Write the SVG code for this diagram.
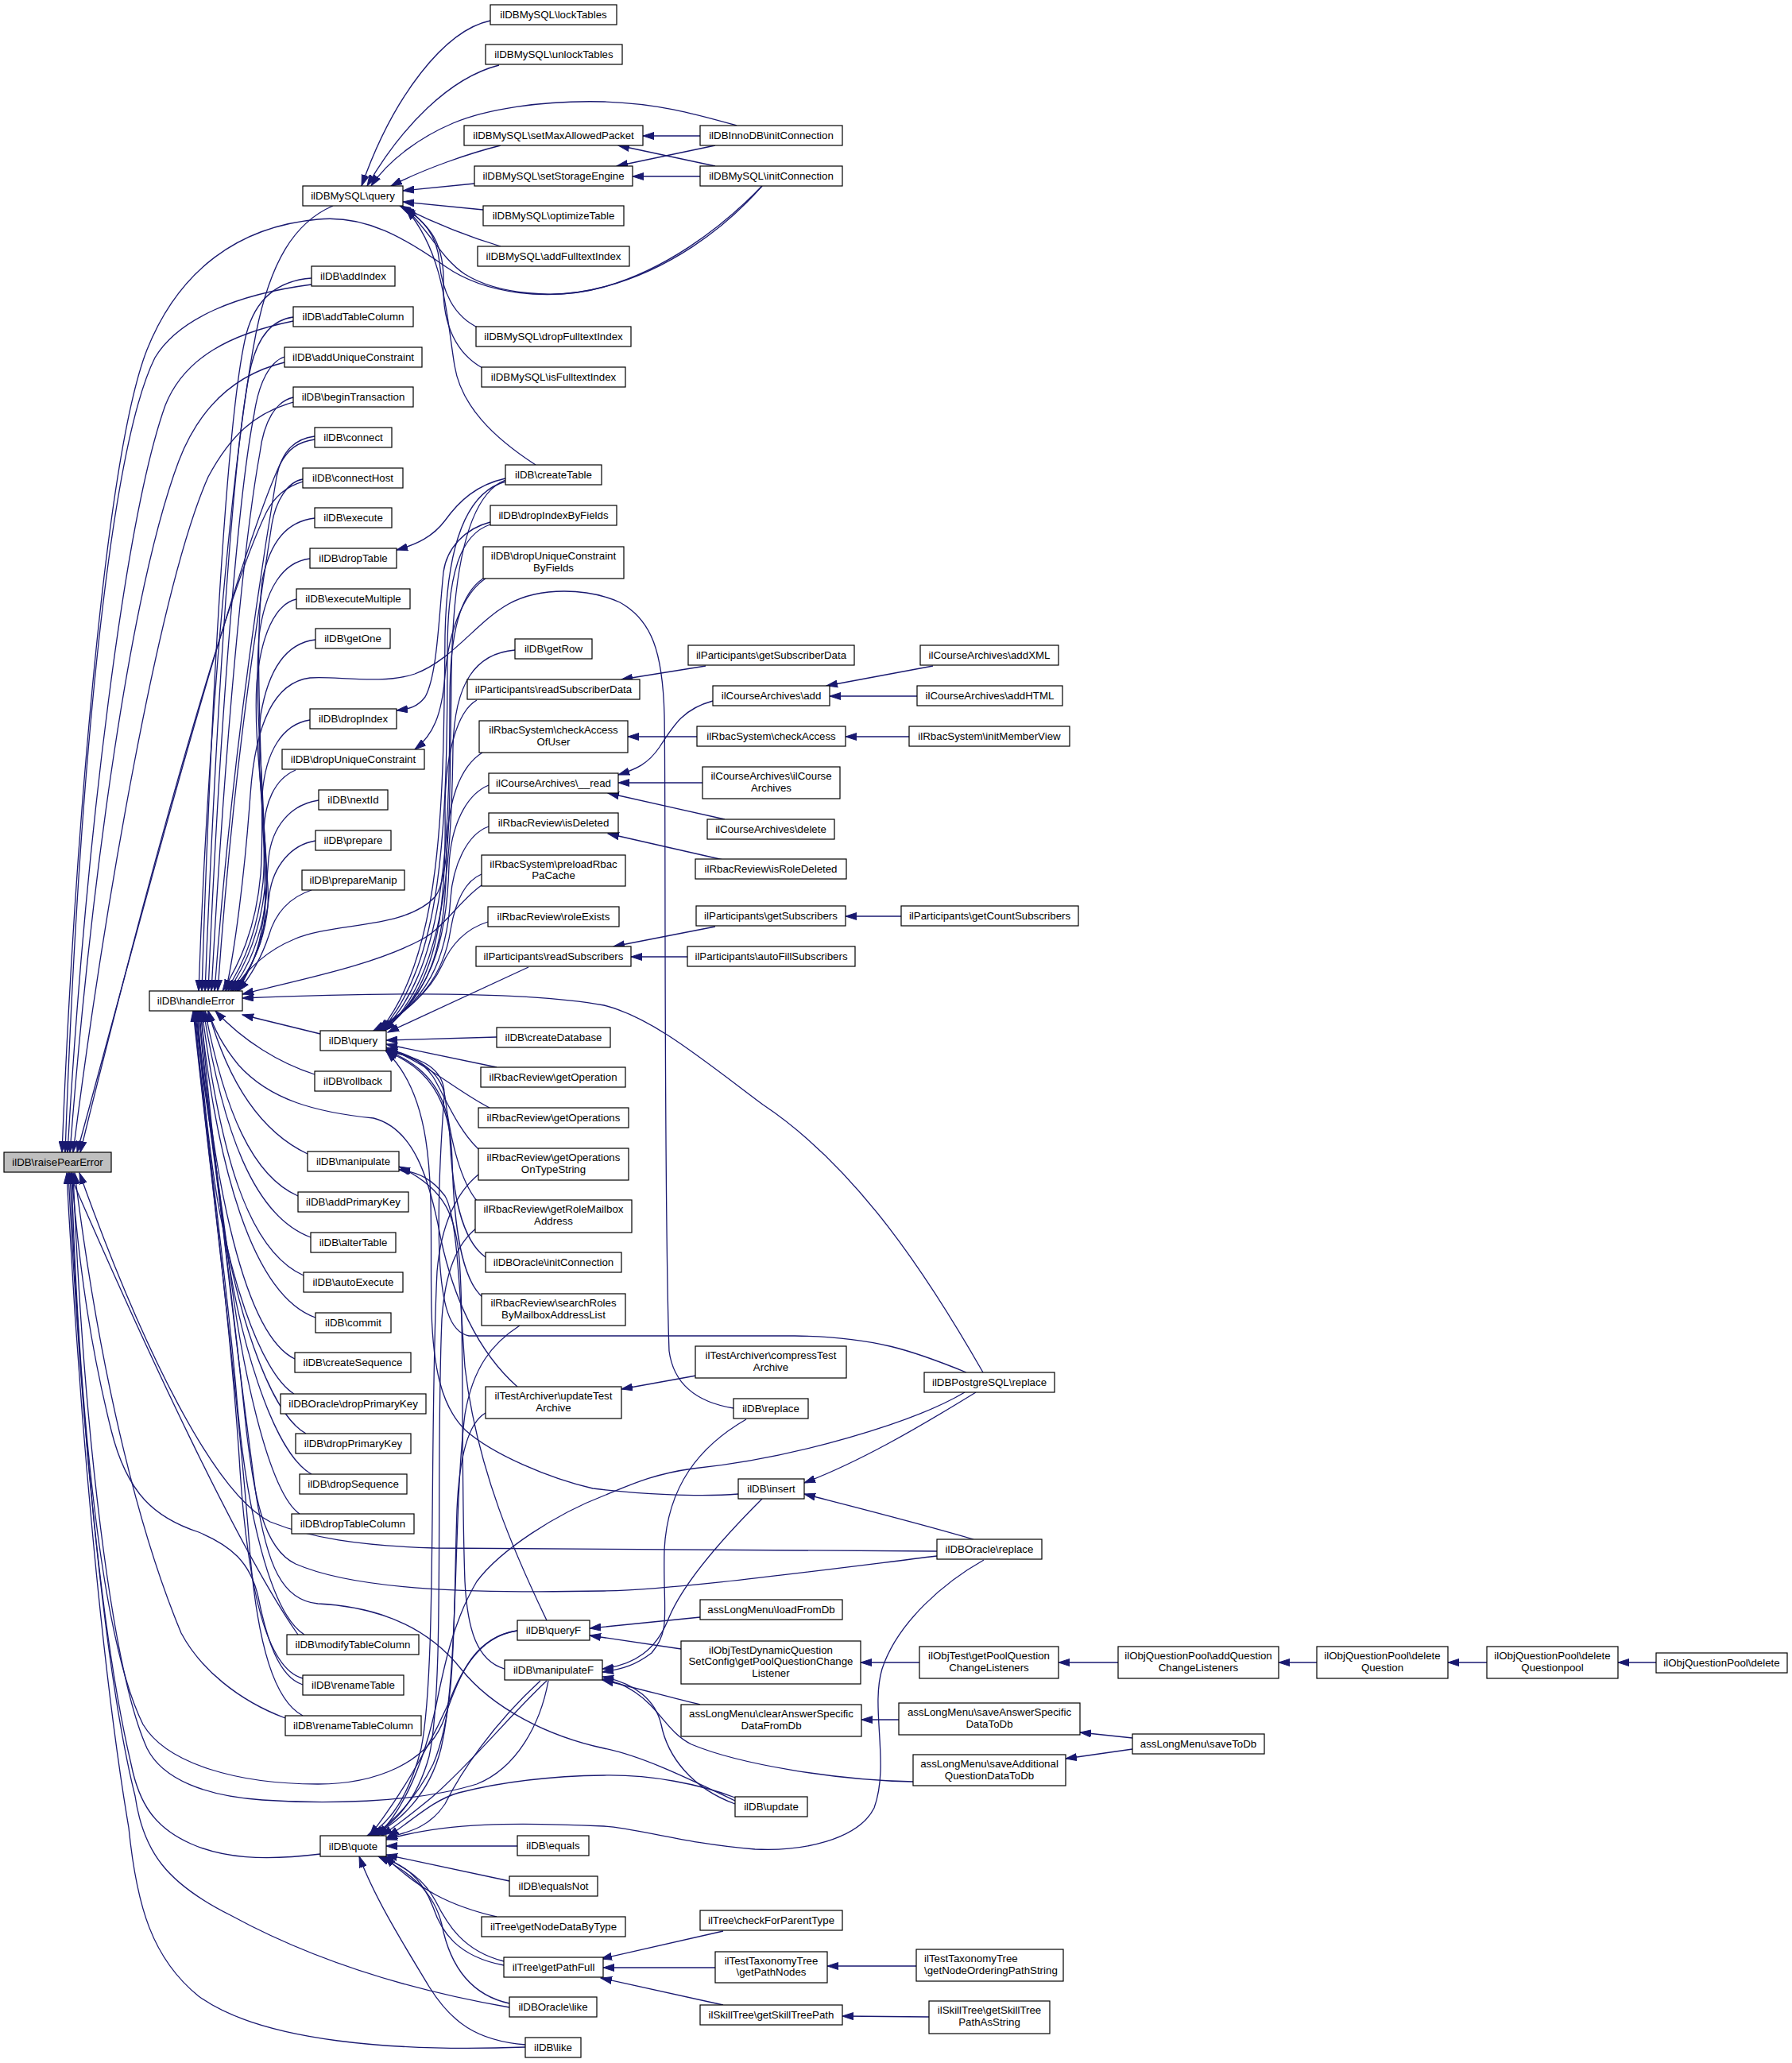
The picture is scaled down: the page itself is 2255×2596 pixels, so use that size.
<svg xmlns="http://www.w3.org/2000/svg" width="2255" height="2596" viewBox="0 0 2255 2596">
<defs>
<style>
.n rect{fill:#fff;stroke:#000;stroke-width:1.2}
.n text{font-family:"Liberation Sans",Arial,Helvetica,sans-serif;font-size:13.3px;fill:#000;text-anchor:middle}
.root rect{fill:#bfbfbf}
.e path{fill:none;stroke:#191970;stroke-width:1.3;marker-end:url(#a)}
</style>
<marker id="a" markerUnits="userSpaceOnUse" markerWidth="15" markerHeight="10" refX="14" refY="5" orient="auto" viewBox="0 0 15 10"><path d="M0,0.5 L14,5 L0,9.5 z" fill="#191970" stroke="#191970" stroke-width="1"/></marker>
</defs>
<rect width="2255" height="2596" fill="#fff"/>
<g id="connectors" class="e">
<path d="M617,26 C560,38 495,120 455,234"/>
<path d="M628,82 C565,98 505,160 462,234"/>
<path d="M927,158 C880,145 830,130 760,128 C680,126 610,138 570,155 C530,172 490,200 467,234"/>
<path d="M630,183 C590,193 535,212 492,234"/>
<path d="M597,231 L507,240"/>
<path d="M608,264 L507,254"/>
<path d="M630,310 C590,298 545,280 503,259"/>
<path d="M603,413 C570,398 556,365 553,330 C550,295 532,276 507,260"/>
<path d="M607,463 C575,445 557,410 558,360 C560,305 540,283 509,261"/>
<path d="M959,234 C910,290 840,340 760,361 C700,378 625,370 585,345 C555,325 540,290 510,262"/>
<path d="M674,585 C620,550 580,510 572,460 C562,400 560,320 511,263"/>
<path d="M419,259 C370,280 340,330 322,420 C295,560 262,900 250,1247"/>
<path d="M959,234 C905,290 835,340 760,361 C690,380 610,370 560,335 C510,300 460,270 400,276 C300,285 225,340 185,440 C130,580 92,1100 78,1450"/>
<path d="M392,358 C300,370 225,400 195,450 C140,560 100,950 82,1450"/>
<path d="M392,350 C350,353 322,375 310,420 C285,520 265,900 254,1247"/>
<path d="M369,404 C290,420 232,450 208,510 C158,650 108,1050 85,1450"/>
<path d="M369,399 C345,402 326,420 316,460 C293,560 272,900 258,1247"/>
<path d="M358,456 C292,472 250,515 225,580 C165,740 115,1100 88,1450"/>
<path d="M358,449 C340,455 326,480 320,520 C300,620 277,900 262,1247"/>
<path d="M369,506 C320,520 290,548 262,600 C200,740 130,1150 92,1450"/>
<path d="M369,500 C347,505 332,530 327,570 C307,680 284,920 266,1247"/>
<path d="M396,553 C375,556 362,565 352,585 C290,720 160,1220 97,1450"/>
<path d="M396,549 C372,552 355,566 348,600 C328,720 292,950 270,1247"/>
<path d="M381,606 C360,612 345,625 335,645 C270,780 150,1250 101,1450"/>
<path d="M381,603 C362,606 347,630 342,660 C324,780 294,960 274,1247"/>
<path d="M396,652 C362,656 340,680 330,730 C318,840 335,1000 328,1100 C322,1170 300,1215 280,1247"/>
<path d="M390,703 C356,707 334,740 326,800 C318,900 338,1020 331,1110 C324,1175 304,1218 284,1247"/>
<path d="M373,754 C346,760 328,800 323,860 C318,950 340,1050 333,1120 C326,1180 306,1220 287,1247"/>
<path d="M397,805 C362,809 338,840 328,900 C320,980 340,1070 335,1130 C328,1185 310,1222 290,1247"/>
<path d="M390,906 C356,911 334,945 330,1000 C327,1060 342,1110 336,1150 C330,1195 312,1225 293,1247"/>
<path d="M372,969 C346,980 332,1010 332,1050 C332,1110 338,1150 328,1185 C318,1215 306,1232 296,1247"/>
<path d="M401,1007 C366,1012 342,1040 338,1080 C334,1130 332,1175 320,1205 C312,1225 304,1237 298,1247"/>
<path d="M397,1058 C366,1063 344,1090 339,1125 C334,1170 322,1210 299,1247"/>
<path d="M392,1120 C362,1130 346,1150 338,1178 C328,1208 314,1230 300,1247"/>
<path d="M636,604 C596,620 570,690 568,850 C566,1000 568,1100 548,1128 C510,1170 420,1160 370,1182 C336,1196 312,1218 292,1247"/>
<path d="M606,1114 C580,1132 560,1165 533,1181 C470,1215 380,1232 305,1251"/>
<path d="M1237,1727 C1170,1610 1080,1470 960,1390 C880,1330 820,1280 760,1265 C650,1245 450,1250 305,1256"/>
<path d="M403,1301 L305,1277"/>
<path d="M396,1352 C352,1338 306,1310 271,1272"/>
<path d="M387,1452 C330,1425 288,1365 262,1272"/>
<path d="M375,1505 C318,1480 283,1400 258,1272"/>
<path d="M391,1557 C318,1530 280,1420 256,1272"/>
<path d="M382,1605 C308,1572 276,1440 254,1272"/>
<path d="M397,1658 C318,1630 273,1470 252,1272"/>
<path d="M371,1710 C308,1680 268,1490 250,1272"/>
<path d="M370,1754 C328,1728 283,1600 265,1450 C256,1380 251,1320 249,1272"/>
<path d="M385,1804 C338,1778 293,1640 275,1500 C262,1400 251,1320 248,1272"/>
<path d="M392,1855 C343,1828 298,1680 281,1540 C267,1420 250,1330 247,1272"/>
<path d="M377,1905 C338,1878 303,1720 287,1580 C271,1450 249,1330 246,1272"/>
<path d="M383,2057 C340,2030 310,1900 298,1760 C285,1600 255,1400 245,1272"/>
<path d="M375,2057 C300,1950 180,1690 87,1476"/>
<path d="M381,2112 C336,2100 312,2000 302,1850 C290,1650 255,1400 244,1272"/>
<path d="M381,2120 C350,2110 335,2060 325,2010 C315,1965 290,1945 250,1928 C195,1910 160,1880 140,1800 C115,1700 100,1600 90,1476"/>
<path d="M381,2159 C345,2140 325,2070 315,1960 C300,1750 258,1420 243,1272"/>
<path d="M359,2162 C300,2140 252,2100 228,2055 C180,1940 128,1750 94,1476"/>
<path d="M651,2052 C600,2060 580,2100 560,2160 C540,2220 470,2245 400,2245 C300,2245 210,2220 180,2170 C130,2070 100,1800 90,1476"/>
<path d="M690,2115 C680,2170 650,2225 600,2245 C520,2270 400,2270 330,2265 C260,2260 205,2240 185,2200 C140,2100 105,1800 92,1476"/>
<path d="M403,2333 C330,2342 280,2338 240,2320 C195,2300 175,2270 165,2220 C125,2050 100,1760 88,1476"/>
<path d="M641,2526 C520,2505 400,2470 290,2410 C210,2370 180,2330 170,2260 C130,2100 100,1760 86,1476"/>
<path d="M661,2576 C500,2582 330,2570 250,2512 C192,2465 172,2400 162,2300 C128,2100 98,1760 84,1476"/>
<path d="M1179,1952 C900,1952 650,1950 547,1948 C450,1945 390,1935 340,1915 C270,1880 180,1700 100,1476"/>
<path d="M1179,1958 C1000,1980 850,2000 760,2002 C600,2005 450,2002 372,1968 C330,1948 320,1880 310,1800 C290,1600 260,1400 251,1272"/>
<path d="M925,2266 C870,2240 810,2210 760,2200 C690,2185 620,2150 580,2100 C540,2050 480,2022 400,2018 C355,2014 336,1970 322,1880 C298,1700 262,1400 253,1272"/>
<path d="M923,1772 C880,1765 848,1745 842,1700 C835,1500 838,1000 836,900 C834,820 820,780 780,758 C740,740 680,738 640,760 C600,782 570,830 522,848 C480,862 420,850 390,853 C350,858 322,900 315,1000 C308,1100 295,1200 284,1247"/>
<path d="M651,1745 C600,1700 570,1630 555,1560 C540,1480 520,1420 470,1407 C400,1400 340,1385 300,1340 C282,1318 270,1298 262,1272"/>
<path d="M636,602 C600,610 578,630 560,655 C545,675 525,685 499,692"/>
<path d="M617,657 C585,665 562,690 558,720 C552,780 550,850 535,877 C525,890 515,892 499,894"/>
<path d="M611,728 C585,745 565,790 560,850 C556,900 545,925 522,943"/>
<path d="M636,606 C585,620 562,690 560,800 C558,1000 558,1200 478,1297"/>
<path d="M617,660 C580,672 563,720 563,820 C563,1050 556,1210 480,1297"/>
<path d="M611,726 C578,745 566,800 566,880 C566,1080 556,1220 482,1297"/>
<path d="M648,818 C598,822 572,860 570,940 C568,1100 556,1230 484,1297"/>
<path d="M600,881 C575,895 560,950 560,1020 C562,1150 550,1245 482,1297"/>
<path d="M607,947 C578,965 563,1010 562,1070 C562,1180 546,1250 480,1297"/>
<path d="M615,988 C586,1000 567,1040 565,1090 C562,1190 540,1255 477,1297"/>
<path d="M615,1040 C587,1050 570,1090 567,1130 C562,1210 536,1260 475,1297"/>
<path d="M606,1100 C582,1110 572,1140 567,1170 C558,1230 526,1265 473,1297"/>
<path d="M614,1160 C582,1170 566,1192 556,1215 C540,1250 508,1275 470,1297"/>
<path d="M665,1217 L488,1299"/>
<path d="M625,1305 L486,1309"/>
<path d="M625,1343 L486,1314"/>
<path d="M616,1394 C575,1373 540,1340 486,1318"/>
<path d="M602,1446 C575,1420 560,1380 545,1355 C530,1333 510,1325 486,1320"/>
<path d="M600,1511 C575,1480 565,1420 560,1380 C554,1345 522,1330 486,1321"/>
<path d="M611,1582 C580,1560 569,1500 566,1430 C563,1370 530,1338 486,1322"/>
<path d="M608,1633 C580,1610 571,1540 569,1460 C567,1380 536,1342 486,1323"/>
<path d="M1216,1727 C1150,1700 1100,1682 1000,1681 L590,1681 C565,1676 556,1640 553,1580 C550,1500 556,1420 559,1380 C561,1345 530,1330 486,1323"/>
<path d="M929,1880 C880,1884 800,1880 746,1873 C690,1860 620,1830 586,1800 C555,1770 545,1720 543,1650 C540,1520 555,1390 486,1323"/>
<path d="M635,2100 C600,2090 588,2050 585,1990 C580,1850 584,1680 579,1600 C576,1530 560,1495 502,1468"/>
<path d="M688,2039 C650,1960 600,1850 585,1720 C578,1620 575,1530 560,1505 C545,1485 528,1475 502,1472"/>
<path d="M651,2052 C618,2056 592,2080 572,2125 C548,2185 505,2260 465,2310"/>
<path d="M688,2115 C640,2160 592,2220 543,2262 C515,2285 495,2300 480,2310"/>
<path d="M680,2115 C620,2170 580,2230 560,2270 C540,2300 515,2305 486,2313"/>
<path d="M1214,1752 C1150,1790 1000,1835 872,1848 C820,1855 790,1870 760,1882 C700,1905 630,1950 600,1990 C570,2040 558,2100 548,2150 C530,2230 505,2280 475,2310"/>
<path d="M1238,1963 C1190,1990 1130,2040 1110,2100 C1095,2150 1120,2220 1100,2275 C1080,2315 1010,2330 950,2327 C860,2320 800,2300 760,2298 C650,2293 560,2293 486,2315"/>
<path d="M925,2262 C880,2245 820,2233 760,2234 C680,2235 620,2245 577,2256 C545,2265 520,2290 488,2311"/>
<path d="M651,2323 L486,2323"/>
<path d="M641,2367 L486,2334"/>
<path d="M625,2412 C565,2398 528,2378 484,2336"/>
<path d="M634,2468 C582,2455 562,2420 548,2392 C532,2362 508,2350 482,2336"/>
<path d="M634,2473 C575,2462 555,2430 545,2400 C530,2360 505,2345 478,2336"/>
<path d="M641,2521 C590,2510 566,2472 556,2422 C546,2380 515,2355 476,2336"/>
<path d="M661,2573 C600,2568 568,2545 540,2500 C510,2450 472,2390 452,2336"/>
<path d="M611,1778 C590,1790 578,1830 575,1900 C570,2050 575,2150 545,2220 C520,2270 490,2295 470,2310"/>
<path d="M654,1668 C620,1690 595,1720 585,1780 C570,1900 578,2100 555,2200 C540,2260 500,2295 468,2310"/>
<path d="M602,1478 C575,1500 555,1540 550,1600 C540,1800 550,2100 530,2200 C515,2260 490,2295 462,2310"/>
<path d="M600,1545 C575,1565 560,1600 556,1660 C548,1850 560,2120 540,2210 C525,2265 495,2298 466,2310"/>
<path d="M1228,1752 C1150,1800 1080,1840 1012,1866"/>
<path d="M1225,1937 C1150,1915 1070,1895 1012,1880"/>
<path d="M959,1886 C905,1940 857,1995 840,2040 C825,2075 800,2095 758,2100"/>
<path d="M939,1786 C880,1820 840,1870 836,1950 C834,2030 845,2050 820,2080 C800,2095 785,2100 758,2104"/>
<path d="M925,2270 C870,2250 840,2210 832,2170 C825,2140 800,2118 758,2110"/>
<path d="M881,2145 C840,2135 800,2124 758,2114"/>
<path d="M1149,2242 C1050,2240 930,2220 870,2195 C840,2180 830,2150 800,2130 C785,2120 775,2116 758,2113"/>
<path d="M881,2035 L742,2049"/>
<path d="M857,2075 L742,2058"/>
<path d="M888,838 L782,855"/>
<path d="M897,882 C860,892 848,912 830,940 C815,962 800,968 778,975"/>
<path d="M877,927 L790,927"/>
<path d="M884,985 L778,985"/>
<path d="M912,1031 L765,998"/>
<path d="M910,1082 L765,1049"/>
<path d="M900,1166 L772,1191"/>
<path d="M865,1204 L794,1204"/>
<path d="M1174,838 L1040,863"/>
<path d="M1154,876 L1044,876"/>
<path d="M1144,927 L1064,927"/>
<path d="M1134,1153 L1064,1153"/>
<path d="M876,1731 L782,1748"/>
<path d="M881,171 L809,171"/>
<path d="M900,209 L778,183"/>
<path d="M900,183 L776,209"/>
<path d="M881,222 L796,222"/>
<path d="M1157,2092 L1083,2092"/>
<path d="M1407,2092 L1332,2092"/>
<path d="M1657,2092 L1609,2092"/>
<path d="M1871,2092 L1822,2092"/>
<path d="M2084,2092 L2036,2092"/>
<path d="M1131,2164 L1084,2164"/>
<path d="M1425,2187 L1359,2180"/>
<path d="M1425,2201 L1341,2213"/>
<path d="M910,2430 L756,2465"/>
<path d="M900,2476 L759,2476"/>
<path d="M910,2523 L756,2489"/>
<path d="M1153,2474 L1041,2474"/>
<path d="M1169,2538 L1060,2537"/>
</g>
<g id="raisePearError" class="n root"><rect x="5" y="1450" width="135" height="25"/><text x="72.5" y="1467">ilDB\raisePearError</text></g>
<g id="handleError" class="n"><rect x="188" y="1247" width="117" height="25"/><text x="246.5" y="1264">ilDB\handleError</text></g>
<g id="mysqlQuery" class="n"><rect x="381" y="234" width="126" height="25"/><text x="444" y="251">ilDBMySQL\query</text></g>
<g id="addIndex" class="n"><rect x="392" y="335" width="105" height="25"/><text x="444.5" y="352">ilDB\addIndex</text></g>
<g id="addTableColumn" class="n"><rect x="369" y="386" width="151" height="25"/><text x="444.5" y="403">ilDB\addTableColumn</text></g>
<g id="addUniqueConstraint" class="n"><rect x="358" y="437" width="173" height="25"/><text x="444.5" y="454">ilDB\addUniqueConstraint</text></g>
<g id="beginTransaction" class="n"><rect x="369" y="487" width="151" height="25"/><text x="444.5" y="504">ilDB\beginTransaction</text></g>
<g id="connect" class="n"><rect x="396" y="538" width="97" height="25"/><text x="444.5" y="555">ilDB\connect</text></g>
<g id="connectHost" class="n"><rect x="381" y="589" width="126" height="25"/><text x="444" y="606">ilDB\connectHost</text></g>
<g id="execute" class="n"><rect x="396" y="639" width="97" height="25"/><text x="444.5" y="656">ilDB\execute</text></g>
<g id="dropTable" class="n"><rect x="390" y="690" width="109" height="25"/><text x="444.5" y="707">ilDB\dropTable</text></g>
<g id="executeMultiple" class="n"><rect x="373" y="741" width="143" height="25"/><text x="444.5" y="758">ilDB\executeMultiple</text></g>
<g id="getOne" class="n"><rect x="397" y="791" width="94" height="25"/><text x="444" y="808">ilDB\getOne</text></g>
<g id="dropIndex" class="n"><rect x="390" y="892" width="109" height="25"/><text x="444.5" y="909">ilDB\dropIndex</text></g>
<g id="dropUniqueConstraint" class="n"><rect x="355" y="943" width="179" height="25"/><text x="444.5" y="960">ilDB\dropUniqueConstraint</text></g>
<g id="nextId" class="n"><rect x="401" y="994" width="87" height="25"/><text x="444.5" y="1011">ilDB\nextId</text></g>
<g id="prepare" class="n"><rect x="397" y="1045" width="95" height="25"/><text x="444.5" y="1062">ilDB\prepare</text></g>
<g id="prepareManip" class="n"><rect x="380" y="1095" width="129" height="25"/><text x="444.5" y="1112">ilDB\prepareManip</text></g>
<g id="query" class="n"><rect x="403" y="1297" width="83" height="25"/><text x="444.5" y="1314">ilDB\query</text></g>
<g id="rollback" class="n"><rect x="396" y="1348" width="96" height="25"/><text x="444" y="1365">ilDB\rollback</text></g>
<g id="manipulate" class="n"><rect x="387" y="1449" width="115" height="25"/><text x="444.5" y="1466">ilDB\manipulate</text></g>
<g id="addPrimaryKey" class="n"><rect x="375" y="1500" width="139" height="25"/><text x="444.5" y="1517">ilDB\addPrimaryKey</text></g>
<g id="alterTable" class="n"><rect x="391" y="1551" width="107" height="25"/><text x="444.5" y="1568">ilDB\alterTable</text></g>
<g id="autoExecute" class="n"><rect x="382" y="1601" width="125" height="25"/><text x="444.5" y="1618">ilDB\autoExecute</text></g>
<g id="commit" class="n"><rect x="397" y="1652" width="95" height="25"/><text x="444.5" y="1669">ilDB\commit</text></g>
<g id="createSequence" class="n"><rect x="371" y="1702" width="146" height="25"/><text x="444" y="1719">ilDB\createSequence</text></g>
<g id="oracleDropPrimaryKey" class="n"><rect x="353" y="1754" width="183" height="25"/><text x="444.5" y="1771">ilDBOracle\dropPrimaryKey</text></g>
<g id="dropPrimaryKey" class="n"><rect x="372" y="1804" width="145" height="25"/><text x="444.5" y="1821">ilDB\dropPrimaryKey</text></g>
<g id="dropSequence" class="n"><rect x="377" y="1855" width="135" height="25"/><text x="444.5" y="1872">ilDB\dropSequence</text></g>
<g id="dropTableColumn" class="n"><rect x="367" y="1905" width="154" height="25"/><text x="444" y="1922">ilDB\dropTableColumn</text></g>
<g id="modifyTableColumn" class="n"><rect x="361" y="2057" width="166" height="25"/><text x="444" y="2074">ilDB\modifyTableColumn</text></g>
<g id="renameTable" class="n"><rect x="381" y="2108" width="127" height="25"/><text x="444.5" y="2125">ilDB\renameTable</text></g>
<g id="renameTableColumn" class="n"><rect x="359" y="2159" width="171" height="25"/><text x="444.5" y="2176">ilDB\renameTableColumn</text></g>
<g id="quote" class="n"><rect x="403" y="2310" width="83" height="26"/><text x="444.5" y="2328">ilDB\quote</text></g>
<g id="lockTables" class="n"><rect x="617" y="6" width="159" height="25"/><text x="696.5" y="23">ilDBMySQL\lockTables</text></g>
<g id="unlockTables" class="n"><rect x="611" y="56" width="172" height="25"/><text x="697" y="73">ilDBMySQL\unlockTables</text></g>
<g id="setMaxAllowedPacket" class="n"><rect x="584" y="158" width="225" height="25"/><text x="696.5" y="175">ilDBMySQL\setMaxAllowedPacket</text></g>
<g id="setStorageEngine" class="n"><rect x="597" y="209" width="199" height="25"/><text x="696.5" y="226">ilDBMySQL\setStorageEngine</text></g>
<g id="optimizeTable" class="n"><rect x="608" y="259" width="177" height="25"/><text x="696.5" y="276">ilDBMySQL\optimizeTable</text></g>
<g id="addFulltextIndex" class="n"><rect x="601" y="310" width="191" height="25"/><text x="696.5" y="327">ilDBMySQL\addFulltextIndex</text></g>
<g id="dropFulltextIndex" class="n"><rect x="599" y="411" width="195" height="25"/><text x="696.5" y="428">ilDBMySQL\dropFulltextIndex</text></g>
<g id="isFulltextIndex" class="n"><rect x="606" y="462" width="181" height="25"/><text x="696.5" y="479">ilDBMySQL\isFulltextIndex</text></g>
<g id="createTable" class="n"><rect x="636" y="585" width="121" height="25"/><text x="696.5" y="602">ilDB\createTable</text></g>
<g id="dropIndexByFields" class="n"><rect x="617" y="636" width="159" height="25"/><text x="696.5" y="653">ilDB\dropIndexByFields</text></g>
<g id="dropUniqueConstraintByFields" class="n"><rect x="608" y="688" width="177" height="40"/><text x="696.5" y="704">ilDB\dropUniqueConstraint</text><text x="696.5" y="719">ByFields</text></g>
<g id="getRow" class="n"><rect x="648" y="804" width="97" height="25"/><text x="696.5" y="821">ilDB\getRow</text></g>
<g id="readSubscriberData" class="n"><rect x="588" y="855" width="217" height="25"/><text x="696.5" y="872">ilParticipants\readSubscriberData</text></g>
<g id="checkAccessOfUser" class="n"><rect x="603" y="907" width="187" height="40"/><text x="696.5" y="923">ilRbacSystem\checkAccess</text><text x="696.5" y="938">OfUser</text></g>
<g id="courseArchivesRead" class="n"><rect x="615" y="973" width="163" height="25"/><text x="696.5" y="990">ilCourseArchives\__read</text></g>
<g id="isDeleted" class="n"><rect x="615" y="1023" width="163" height="25"/><text x="696.5" y="1040">ilRbacReview\isDeleted</text></g>
<g id="preloadRbacPaCache" class="n"><rect x="606" y="1076" width="181" height="39"/><text x="696.5" y="1092">ilRbacSystem\preloadRbac</text><text x="696.5" y="1106">PaCache</text></g>
<g id="roleExists" class="n"><rect x="614" y="1141" width="165" height="25"/><text x="696.5" y="1158">ilRbacReview\roleExists</text></g>
<g id="readSubscribers" class="n"><rect x="599" y="1191" width="195" height="25"/><text x="696.5" y="1208">ilParticipants\readSubscribers</text></g>
<g id="createDatabase" class="n"><rect x="625" y="1293" width="143" height="25"/><text x="696.5" y="1310">ilDB\createDatabase</text></g>
<g id="getOperation" class="n"><rect x="605" y="1343" width="182" height="25"/><text x="696" y="1360">ilRbacReview\getOperation</text></g>
<g id="getOperations" class="n"><rect x="602" y="1394" width="189" height="25"/><text x="696.5" y="1411">ilRbacReview\getOperations</text></g>
<g id="getOperationsOnTypeString" class="n"><rect x="602" y="1445" width="189" height="40"/><text x="696.5" y="1461">ilRbacReview\getOperations</text><text x="696.5" y="1476">OnTypeString</text></g>
<g id="getRoleMailboxAddress" class="n"><rect x="598" y="1510" width="197" height="41"/><text x="696.5" y="1526">ilRbacReview\getRoleMailbox</text><text x="696.5" y="1541">Address</text></g>
<g id="oracleInitConnection" class="n"><rect x="611" y="1576" width="171" height="25"/><text x="696.5" y="1593">ilDBOracle\initConnection</text></g>
<g id="searchRoles" class="n"><rect x="606" y="1628" width="181" height="40"/><text x="696.5" y="1644">ilRbacReview\searchRoles</text><text x="696.5" y="1659">ByMailboxAddressList</text></g>
<g id="updateTestArchive" class="n"><rect x="611" y="1745" width="171" height="40"/><text x="696.5" y="1761">ilTestArchiver\updateTest</text><text x="696.5" y="1776">Archive</text></g>
<g id="queryF" class="n"><rect x="651" y="2039" width="91" height="25"/><text x="696.5" y="2056">ilDB\queryF</text></g>
<g id="manipulateF" class="n"><rect x="635" y="2089" width="123" height="25"/><text x="696.5" y="2106">ilDB\manipulateF</text></g>
<g id="equals" class="n"><rect x="651" y="2310" width="90" height="25"/><text x="696" y="2327">ilDB\equals</text></g>
<g id="equalsNot" class="n"><rect x="641" y="2361" width="111" height="25"/><text x="696.5" y="2378">ilDB\equalsNot</text></g>
<g id="getNodeDataByType" class="n"><rect x="606" y="2412" width="181" height="25"/><text x="696.5" y="2429">ilTree\getNodeDataByType</text></g>
<g id="getPathFull" class="n"><rect x="634" y="2463" width="125" height="25"/><text x="696.5" y="2480">ilTree\getPathFull</text></g>
<g id="oracleLike" class="n"><rect x="641" y="2513" width="110" height="25"/><text x="696" y="2530">ilDBOracle\like</text></g>
<g id="like" class="n"><rect x="661" y="2564" width="70" height="25"/><text x="696" y="2581">ilDB\like</text></g>
<g id="innoInitConnection" class="n"><rect x="881" y="158" width="179" height="25"/><text x="970.5" y="175">ilDBInnoDB\initConnection</text></g>
<g id="mysqlInitConnection" class="n"><rect x="881" y="209" width="179" height="25"/><text x="970.5" y="226">ilDBMySQL\initConnection</text></g>
<g id="getSubscriberData" class="n"><rect x="866" y="812" width="209" height="25"/><text x="970.5" y="829">ilParticipants\getSubscriberData</text></g>
<g id="courseArchivesAdd" class="n"><rect x="897" y="863" width="147" height="25"/><text x="970.5" y="880">ilCourseArchives\add</text></g>
<g id="checkAccess" class="n"><rect x="877" y="914" width="187" height="25"/><text x="970.5" y="931">ilRbacSystem\checkAccess</text></g>
<g id="courseArchivesCtor" class="n"><rect x="884" y="965" width="173" height="40"/><text x="970.5" y="981">ilCourseArchives\ilCourse</text><text x="970.5" y="996">Archives</text></g>
<g id="courseArchivesDelete" class="n"><rect x="890" y="1031" width="160" height="25"/><text x="970" y="1048">ilCourseArchives\delete</text></g>
<g id="isRoleDeleted" class="n"><rect x="875" y="1081" width="190" height="25"/><text x="970" y="1098">ilRbacReview\isRoleDeleted</text></g>
<g id="getSubscribers" class="n"><rect x="876" y="1140" width="188" height="25"/><text x="970" y="1157">ilParticipants\getSubscribers</text></g>
<g id="autoFillSubscribers" class="n"><rect x="865" y="1191" width="211" height="25"/><text x="970.5" y="1208">ilParticipants\autoFillSubscribers</text></g>
<g id="compressTestArchive" class="n"><rect x="875" y="1694" width="190" height="40"/><text x="970" y="1710">ilTestArchiver\compressTest</text><text x="970" y="1725">Archive</text></g>
<g id="replace" class="n"><rect x="923" y="1760" width="94" height="25"/><text x="970" y="1777">ilDB\replace</text></g>
<g id="insert" class="n"><rect x="929" y="1861" width="83" height="25"/><text x="970.5" y="1878">ilDB\insert</text></g>
<g id="loadFromDb" class="n"><rect x="881" y="2013" width="179" height="25"/><text x="970.5" y="2030">assLongMenu\loadFromDb</text></g>
<g id="getPoolQuestionChangeListener" class="n"><rect x="857" y="2065" width="226" height="54"/><text x="970" y="2081">ilObjTestDynamicQuestion</text><text x="970" y="2095">SetConfig\getPoolQuestionChange</text><text x="970" y="2110">Listener</text></g>
<g id="clearAnswerSpecificDataFromDb" class="n"><rect x="857" y="2145" width="227" height="40"/><text x="970.5" y="2161">assLongMenu\clearAnswerSpecific</text><text x="970.5" y="2176">DataFromDb</text></g>
<g id="update" class="n"><rect x="925" y="2261" width="91" height="25"/><text x="970.5" y="2278">ilDB\update</text></g>
<g id="checkForParentType" class="n"><rect x="881" y="2404" width="179" height="25"/><text x="970.5" y="2421">ilTree\checkForParentType</text></g>
<g id="getPathNodes" class="n"><rect x="900" y="2456" width="141" height="39"/><text x="970.5" y="2472">ilTestTaxonomyTree</text><text x="970.5" y="2486">\getPathNodes</text></g>
<g id="getSkillTreePath" class="n"><rect x="881" y="2523" width="179" height="25"/><text x="970.5" y="2540">ilSkillTree\getSkillTreePath</text></g>
<g id="addXML" class="n"><rect x="1158" y="812" width="174" height="25"/><text x="1245" y="829">ilCourseArchives\addXML</text></g>
<g id="addHTML" class="n"><rect x="1154" y="863" width="183" height="25"/><text x="1245.5" y="880">ilCourseArchives\addHTML</text></g>
<g id="initMemberView" class="n"><rect x="1144" y="914" width="202" height="25"/><text x="1245" y="931">ilRbacSystem\initMemberView</text></g>
<g id="getCountSubscribers" class="n"><rect x="1134" y="1140" width="223" height="25"/><text x="1245.5" y="1157">ilParticipants\getCountSubscribers</text></g>
<g id="postgresReplace" class="n"><rect x="1163" y="1727" width="164" height="25"/><text x="1245" y="1744">ilDBPostgreSQL\replace</text></g>
<g id="oracleReplace" class="n"><rect x="1179" y="1937" width="132" height="25"/><text x="1245" y="1954">ilDBOracle\replace</text></g>
<g id="getPoolQuestionChangeListeners" class="n"><rect x="1157" y="2072" width="175" height="40"/><text x="1244.5" y="2088">ilObjTest\getPoolQuestion</text><text x="1244.5" y="2103">ChangeListeners</text></g>
<g id="saveAnswerSpecificDataToDb" class="n"><rect x="1131" y="2143" width="228" height="40"/><text x="1245" y="2159">assLongMenu\saveAnswerSpecific</text><text x="1245" y="2174">DataToDb</text></g>
<g id="saveAdditionalQuestionDataToDb" class="n"><rect x="1149" y="2208" width="192" height="39"/><text x="1245" y="2224">assLongMenu\saveAdditional</text><text x="1245" y="2239">QuestionDataToDb</text></g>
<g id="getNodeOrderingPathString" class="n"><rect x="1153" y="2453" width="185" height="40"/><text x="1163" y="2469" style="text-anchor:start">ilTestTaxonomyTree</text><text x="1163" y="2484" style="text-anchor:start">\getNodeOrderingPathString</text></g>
<g id="getSkillTreePathAsString" class="n"><rect x="1169" y="2518" width="152" height="41"/><text x="1245" y="2534">ilSkillTree\getSkillTree</text><text x="1245" y="2549">PathAsString</text></g>
<g id="addQuestionChangeListeners" class="n"><rect x="1407" y="2072" width="202" height="40"/><text x="1508" y="2088">ilObjQuestionPool\addQuestion</text><text x="1508" y="2103">ChangeListeners</text></g>
<g id="saveToDb" class="n"><rect x="1425" y="2182" width="166" height="25"/><text x="1508" y="2199">assLongMenu\saveToDb</text></g>
<g id="deleteQuestion" class="n"><rect x="1657" y="2072" width="165" height="40"/><text x="1739.5" y="2088">ilObjQuestionPool\delete</text><text x="1739.5" y="2103">Question</text></g>
<g id="deleteQuestionpool" class="n"><rect x="1871" y="2072" width="165" height="40"/><text x="1953.5" y="2088">ilObjQuestionPool\delete</text><text x="1953.5" y="2103">Questionpool</text></g>
<g id="questionPoolDelete" class="n"><rect x="2084" y="2080" width="165" height="25"/><text x="2166.5" y="2097">ilObjQuestionPool\delete</text></g>
</svg>
